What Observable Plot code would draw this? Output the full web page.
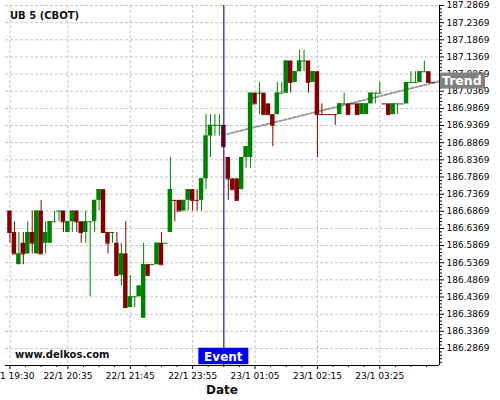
<!DOCTYPE html>
<html>
<head>
<meta charset="utf-8">
<script src="https://cdn.jsdelivr.net/npm/d3@7"></script>
<script src="https://cdn.jsdelivr.net/npm/@observablehq/plot@0.6"></script>
<style>
  html, body { margin: 0; padding: 0; background: #fff; }
  #chart { width: 500px; height: 400px; overflow: hidden; }
  #chart svg { display: block; }
</style>
</head>
<body>
<div id="chart"></div>
<script>
// ---- Data (5-minute candles) ----
const opens = [
  186.6875,186.625,186.53125,186.59375,186.5625,186.625,186.5625,186.6875,186.59375,186.59375,186.65625,186.6875,
  186.6875,186.625,186.65625,186.6875,186.65625,186.625,186.65625,186.65625,186.71875,186.75,186.625,186.625,
  186.59375,186.5,186.5625,186.40625,186.4375,186.4375,186.375,186.53125,186.53125,186.53125,186.59375,186.59375,
  186.625,186.71875,186.71875,186.6875,186.71875,186.75,186.71875,186.71875,186.78125,186.90625,186.9375,186.9375,
  186.9375,186.84375,186.78125,186.78125,186.75,186.84375,186.84375,187.03125,187.03125,187.03125,187,186.96875,
  186.96875,187.03125,187.03125,187.125,187.0625,187.09375,187.125,187.125,187.0625,187.09375,186.96875,186.96875,
  186.96875,186.96875,186.96875,187,187,187,187,186.96875,186.96875,187,187.03125,187.03125,
  187,187,186.96875,187,187,187,187.0625,187.0625,187.0625,187.09375,187.09375,187.0625
];
const highs = [
  186.6875,186.65625,186.625,186.625,186.65625,186.6875,186.6875,186.71875,186.65625,186.65625,186.6875,186.6875,
  186.6875,186.65625,186.6875,186.6875,186.65625,186.6875,186.65625,186.71875,186.75,186.75,186.625,186.625,
  186.625,186.59375,186.65625,186.5,186.4375,186.46875,186.59375,186.53125,186.53125,186.59375,186.625,186.59375,
  186.84375,186.71875,186.71875,186.71875,186.75,186.75,186.75,186.78125,186.96875,186.96875,186.96875,186.96875,
  186.9375,186.84375,186.78125,186.78125,186.84375,186.875,187.03125,187.03125,187.0625,187.03125,187,186.96875,
  187.0625,187.0625,187.125,187.125,187.09375,187.15625,187.15625,187.125,187.09375,187.09375,187,186.96875,
  186.96875,186.96875,187,187.03125,187,187,187,187,187,187.03125,187.03125,187.0625,
  187,187,187,187,187,187.0625,187.09375,187.09375,187.09375,187.125,187.09375,187.0625
];
const lows = [
  186.59375,186.5625,186.53125,186.53125,186.5625,186.5625,186.5625,186.5625,186.5625,186.59375,186.65625,186.65625,
  186.625,186.625,186.625,186.625,186.59375,186.59375,186.4375,186.625,186.6875,186.625,186.5625,186.59375,
  186.5,186.46875,186.40625,186.40625,186.40625,186.4375,186.375,186.5,186.53125,186.53125,186.53125,186.59375,
  186.625,186.65625,186.6875,186.6875,186.6875,186.6875,186.6875,186.6875,186.75,186.84375,186.90625,186.90625,
  186.875,186.71875,186.75,186.71875,186.75,186.8125,186.8125,187,186.96875,186.96875,186.96875,186.875,
  186.96875,187.03125,187.03125,187.03125,187.0625,187.09375,187.09375,187.03125,187.0625,186.84375,186.96875,186.96875,
  186.96875,186.9375,186.96875,187,186.96875,187,186.96875,186.96875,186.96875,187,187,187.03125,
  187,186.96875,186.96875,186.96875,187,187,187.0625,187.0625,187.0625,187.09375,187.0625,187.0625
];
const closes = [
  186.625,186.5625,186.5625,186.5625,186.625,186.59375,186.6875,186.5625,186.625,186.65625,186.65625,186.6875,
  186.65625,186.65625,186.6875,186.65625,186.625,186.65625,186.65625,186.71875,186.75,186.625,186.59375,186.625,
  186.5,186.5625,186.40625,186.4375,186.4375,186.46875,186.53125,186.5,186.53125,186.59375,186.53125,186.59375,
  186.75,186.71875,186.6875,186.71875,186.75,186.71875,186.71875,186.78125,186.90625,186.9375,186.9375,186.9375,
  186.875,186.78125,186.75,186.71875,186.84375,186.875,187.03125,187,187.03125,186.96875,186.96875,186.9375,
  187.03125,187.03125,187.125,187.0625,187.09375,187.125,187.125,187.0625,187.09375,186.96875,186.96875,186.96875,
  186.96875,186.96875,187,187,186.96875,187,186.96875,187,187,187.03125,187.03125,187.03125,
  187,186.96875,187,187,187,187.0625,187.0625,187.0625,187.09375,187.09375,187.0625,187.0625
];
// 1 = green (up) candle, 0 = red (down) candle, as coloured in the reference
const upFlags = [
  0,0,1,0,1,0,1,0,1,1,1,1,
  0,1,1,0,0,1,1,1,1,0,0,1,
  0,1,0,1,1,1,1,0,1,1,0,1,
  1,0,0,1,1,0,0,1,1,1,1,1,
  0,0,0,0,1,1,1,0,1,0,0,0,
  1,1,1,0,1,1,1,0,1,0,0,0,
  0,0,1,1,0,0,0,1,1,1,1,1,
  0,0,1,1,1,1,1,1,1,1,0,0
];

// Axis ticks
const xTickIdx = [0, 13, 27, 41, 55, 69, 83];
const xTickLabels = ["22/1 19:30", "22/1 20:35", "22/1 21:45", "22/1 23:55", "23/1 01:05", "23/1 02:15", "23/1 03:25"];
const yTicks = [186.2869,186.3369,186.3869,186.4369,186.4869,186.5369,186.5869,186.6369,186.6869,186.7369,186.7869,
                186.8369,186.8869,186.9369,186.9869,187.0369,187.0869,187.1369,187.1869,187.2369,187.2869];

// Event and trend annotations
const eventIdx = 48;
const eventLabel = "Event";
const trendX = [48.8, 96.6];
const trendY = [186.9123, 187.0665];
const trendLabel = "Trend";

const titleText = "UB 5 (CBOT)";
const sourceText = "www.delkos.com";
const xAxisTitle = "Date";

// ---- Build ----
const GREEN = "#008000", RED = "#800000";
const candles = opens.map((o, i) => ({
  i, open: o, high: highs[i], low: lows[i], close: closes[i], color: upFlags[i] ? GREEN : RED
}));
const trend = trendX.map((x, k) => ({x, y: trendY[k]}));
const xDomain = [-1, 96.4];
const yDomain = [186.2373, 187.2869];
const yMinor = [];
yTicks.forEach(t => { for (let k = 1; k < 5; k++) { const v = t + k * 0.01; if (v < yDomain[1]) yMinor.push(v); } });
[186.2769, 186.2669, 186.2569, 186.2469].forEach(v => yMinor.push(v));
const xMinor = [];
xTickIdx.forEach(m => { [3.5, 7, 10.5].forEach(s => { if (m + s < xDomain[1]) xMinor.push(m + s); }); });

const grid = {stroke: "#c4c4c4", strokeDasharray: "3,2", strokeOpacity: 1};

const plot = Plot.plot({
  width: 500,
  height: 400,
  marginTop: 5,
  marginRight: 61,
  marginBottom: 35,
  marginLeft: 5,
  style: {fontFamily: "DejaVu Sans", fontSize: "9px", color: "#000", background: "#fff"},
  x: {type: "linear", domain: xDomain, axis: null},
  y: {type: "linear", domain: yDomain, axis: null},
  marks: [
    Plot.ruleY(yTicks, {y: d => d, ...grid}),
    Plot.ruleX(xTickIdx, {x: d => d, ...grid}),
    Plot.line(trend, {x: "x", y: "y", stroke: "#999999", strokeWidth: 2, strokeDasharray: "2.5,2"}),
    Plot.ruleX(candles, {x: "i", y1: "low", y2: "high", stroke: "color", strokeWidth: 1}),
    Plot.rect(candles, {x1: d => d.i - 0.5, x2: d => d.i + 0.5, y1: "open", y2: "close", fill: "color"}),
    Plot.ruleY(candles, {y: "close", x1: d => d.i - 0.5, x2: d => d.i + 0.5, stroke: "color"}),
    Plot.ruleX([eventIdx], {x: d => d, stroke: "#0000b0", strokeWidth: 1.1}),
    Plot.ruleX([xDomain[1]], {x: d => d, stroke: "#000"}),
    Plot.ruleY([yDomain[0]], {y: d => d, stroke: "#000"}),
    Plot.axisY(yTicks, {anchor: "right", tickSize: 4, tickPadding: 3, tickFormat: d => d.toFixed(4), label: null, fontSize: 9}),
    Plot.axisY(yMinor, {anchor: "right", tickSize: 2, tickFormat: () => "", label: null}),
    Plot.axisX(xTickIdx, {anchor: "bottom", tickSize: 4, tickPadding: 3, tickFormat: d => xTickLabels[xTickIdx.indexOf(d)], label: null, fontSize: 9}),
    Plot.axisX(xMinor, {anchor: "bottom", tickSize: 2, tickFormat: () => "", label: null})
  ]
});

document.getElementById("chart").appendChild(plot);

// ---- Annotations positioned with the plot's scales ----
const xs = plot.scale("x"), ys = plot.scale("y");
const svg = d3.select(plot);
const font = "DejaVu Sans";

svg.append("text").attr("x", 10).attr("y", 19).attr("text-anchor", "start")
  .attr("font-family", font).attr("font-size", 10).attr("font-weight", "bold").attr("fill", "#111")
  .text(titleText);

svg.append("text").attr("x", 15).attr("y", 358).attr("text-anchor", "start")
  .attr("font-family", font).attr("font-size", 10).attr("font-weight", "bold").attr("fill", "#111")
  .text(sourceText);

// Event label
const ex = xs.apply(eventIdx);
const yBottom = ys.apply(yDomain[0]);
svg.append("rect").attr("x", ex - 25).attr("y", yBottom - 17.3).attr("width", 50).attr("height", 16.5)
  .attr("fill", "#0000ff");
svg.append("text").attr("x", ex).attr("y", yBottom - 3.6).attr("text-anchor", "middle")
  .attr("font-family", font).attr("font-size", 12).attr("font-weight", "bold").attr("fill", "#fff")
  .text(eventLabel);

// Trend label
const tx = xs.apply(xDomain[1]);
const ty = ys.apply(trendY[1]);
svg.append("rect").attr("x", tx + 1).attr("y", ty - 8).attr("width", 45).attr("height", 16)
  .attr("fill", "#808080");
svg.append("text").attr("x", tx + 3).attr("y", ty + 4.6).attr("text-anchor", "start")
  .attr("font-family", font).attr("font-size", 12.5).attr("font-weight", "bold").attr("fill", "#fff")
  .text(trendLabel);

// X axis title
svg.append("text").attr("x", (xs.apply(xDomain[0]) + tx) / 2).attr("y", 394).attr("text-anchor", "middle")
  .attr("font-family", font).attr("font-size", 12).attr("font-weight", "bold").attr("fill", "#111")
  .text(xAxisTitle);
</script>
</body>
</html>
